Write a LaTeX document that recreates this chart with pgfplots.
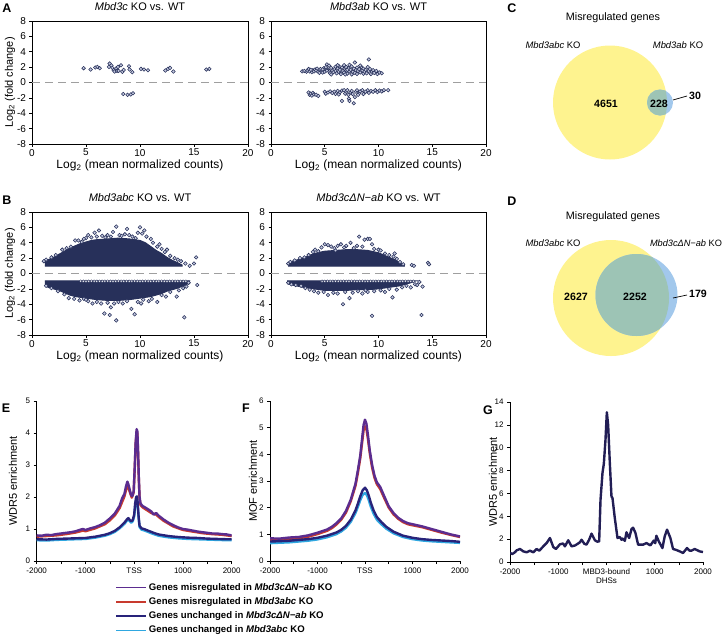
\documentclass[border=0pt]{standalone}
\usepackage{fontspec}
\setmainfont{Liberation Sans}
\usepackage{pgfplots}
\pgfplotsset{compat=1.18}
\definecolor{mnavy}{HTML}{27305A}
\definecolor{mfill}{HTML}{C5CAE0}
\definecolor{cpurple}{HTML}{5B2C8F}
\definecolor{cred}{HTML}{C83A2E}
\definecolor{cdblue}{HTML}{28237A}
\definecolor{clblue}{HTML}{2FA7E0}
\definecolor{gnavy}{HTML}{221E55}
\definecolor{vyel}{HTML}{FEF38F}
\definecolor{vblu}{HTML}{A2C8EC}
\definecolor{vgrn}{HTML}{9DC4B5}

\pgfplotsset{
  ma/.style={scale only axis, height=123pt,
    xmin=0, xmax=20, ymin=-8, ymax=8,
    xtick={0,5,10,15,20}, ytick={-8,-6,-4,-2,0,2,4,6,8},
    tick align=outside, xtick pos=bottom, ytick pos=left,
    major tick length=2.5pt, tick style={black, line width=0.6pt},
    axis line style={line width=0.7pt},
    /pgf/number format/assume math mode=true,
    tick label style={font=\fontsize{10}{11}\selectfont},
    xticklabel style={yshift=1pt},
    title style={anchor=center, at={(axis description cs:0.5,1.065)},
      font=\fontsize{11}{12}\selectfont},
    xlabel style={anchor=center, at={(axis description cs:0.5,-0.172)},
      font=\fontsize{12}{13}\selectfont},
    ylabel style={anchor=center, at={(axis description cs:-0.102,0.5)},
      font=\fontsize{11}{12}\selectfont}},
  pts/.style={only marks, mark=*, mark size=1.8pt,
    mark options={draw=mnavy, fill=mfill, line width=0.55pt}},
  lpts/.style={only marks, mark=*, mark size=1.4pt,
    mark options={draw=mnavy, fill=white!80!mfill, line width=0.4pt}},
  zline/.style={gray!75, line width=0.8pt, dash pattern=on 8pt off 5pt},
  core/.style={fill=mnavy, draw=mnavy, line width=1pt},
  prof/.style={scale only axis, height=160pt,
    axis x line=bottom, axis y line=left,
    axis line style={-, line width=0.8pt},
    xmin=-2000, xmax=2000, ymin=0,
    xtick={-2000,-1000,0,1000,2000},
    minor xtick={-1500,-500,500,1500},
    tick align=outside, major tick length=3pt, minor tick length=3pt,
    tick style={black, line width=0.6pt},
    /pgf/number format/assume math mode=true,
    tick label style={font=\fontsize{8}{9.5}\selectfont},
    ylabel style={anchor=center, font=\fontsize{11}{12}\selectfont},
    every axis plot/.append style={line width=2.4pt, line join=round}},
}

\begin{document}
\begin{tikzpicture}
\path[use as bounding box] (0pt,0pt) rectangle (726pt,-638pt);

% panel letters
\begin{scope}[every node/.style={font=\bfseries\fontsize{12.5}{14}\selectfont}]
\node at (7pt,-8pt) {A};
\node at (7pt,-200pt) {B};
\node at (512pt,-8pt) {C};
\node at (512pt,-201pt) {D};
\node at (6pt,-408pt) {E};
\node at (246pt,-408pt) {F};
\node at (488pt,-410pt) {G};
\end{scope}

% ---------------- A left
\begin{axis}[ma, at={(32pt,-144pt)}, anchor=south west, width=216pt,
  title={\textit{Mbd3c} KO vs. WT},
  xlabel={Log\textsubscript{2} (mean normalized counts)},
  ylabel={Log\textsubscript{2} (fold change)}]
\addplot[zline] coordinates {(0,0) (20,0)};
\addplot[pts] coordinates {
(4.78,1.86) (5.43,1.69) (5.86,1.95) (6.05,2.03) (6.27,1.86) (7.13,2.03)
(7.19,2.47) (7.35,2.21) (7.44,1.90) (7.56,1.60) (7.65,1.43) (7.81,1.86)
(7.87,1.52) (7.96,2.03) (8.02,1.52) (8.24,2.25) (8.36,1.39) (8.49,1.64)
(8.98,2.12) (9.04,1.69) (9.29,1.34) (10.09,1.77) (10.37,1.69) (10.74,1.60)
(12.35,1.56) (12.59,1.77) (12.78,1.90) (13.09,1.43) (16.14,1.69) (16.42,1.77)
(8.45,-1.50) (8.85,-1.60) (9.15,-1.55) (9.35,-1.40)};
\end{axis}

% ---------------- A right
\begin{axis}[ma, at={(271pt,-144pt)}, anchor=south west, width=215pt,
  title={\textit{Mbd3ab} KO vs. WT},
  xlabel={Log\textsubscript{2} (mean normalized counts)}]
\addplot[zline] coordinates {(0,0) (20,0)};
\addplot[pts] coordinates {
(2.9,1.45) (3.1,1.5) (3.3,1.4) (3.4,1.55) (3.5,1.75) (3.6,1.45) (3.8,1.35)
(3.9,1.6) (4.0,1.45) (4.1,1.7) (4.2,1.55) (4.3,1.8) (4.4,1.4) (4.5,1.65)
(4.6,1.75) (4.7,1.5) (4.8,1.3) (4.9,1.85) (5.0,1.6) (5.0,1.4) (5.1,2.0)
(5.2,2.35) (5.3,1.7) (5.4,1.5) (5.4,2.2) (5.5,1.2) (5.6,1.9) (5.7,1.6)
(5.8,1.35) (5.9,1.75) (6.0,2.05) (6.0,1.5) (6.1,1.2) (6.2,1.85) (6.3,2.15)
(6.3,1.4) (6.4,1.65) (6.5,1.1) (6.6,1.95) (6.7,1.5) (6.8,2.25) (6.8,1.3)
(6.9,1.75) (7.0,1.55) (7.0,2.0) (7.1,1.15) (7.2,1.85) (7.3,2.3) (7.3,1.45)
(7.4,1.65) (7.5,1.05) (7.5,2.1) (7.6,1.4) (7.7,1.8) (7.8,2.6) (7.8,1.25)
(7.9,1.6) (8.0,1.95) (8.0,1.1) (8.1,1.5) (8.2,1.75) (8.3,1.3) (8.4,2.0)
(8.5,1.55) (8.6,1.15) (8.6,1.8) (8.7,1.4) (8.8,1.65) (8.9,1.2) (9.0,2.0)
(9.1,3.0) (9.1,1.5) (9.2,1.75) (9.3,1.1) (9.4,1.4) (9.5,1.6) (9.6,1.25)
(9.8,1.5) (9.9,1.1) (10.1,1.3) (10.3,1.2) (5.6,1.05) (4.5,1.25) (6.9,1.05)
(8.3,2.2) (6.2,2.25) (5.2,1.55) (7.1,1.65) (3.7,1.65) (4.8,1.7)
(3.5,-1.3) (3.6,-1.6) (3.7,-1.45) (3.8,-1.7) (3.9,-1.35) (4.0,-1.55)
(4.2,-1.6) (4.4,-1.75) (5.0,-1.2) (5.1,-1.45) (5.3,-1.3) (5.5,-1.15)
(5.7,-1.35) (5.9,-1.2) (6.0,-1.5) (6.2,-1.1) (6.4,-1.3) (6.6,-1.05)
(6.6,-2.4) (6.8,-1.0) (6.9,-1.45) (7.0,-1.2) (7.1,-1.0) (7.2,-1.6)
(7.25,-2.1) (7.3,-2.4) (7.4,-1.3) (7.5,-1.1) (7.6,-1.5) (7.7,-2.7)
(7.8,-1.9) (7.9,-1.2) (8.0,-1.0) (8.2,-1.4) (8.3,-1.15) (8.5,-1.0)
(8.6,-1.5) (8.8,-1.2) (9.0,-1.0) (9.1,-1.35) (9.3,-1.1) (9.5,-1.2)
(9.7,-1.0) (9.9,-1.25) (10.1,-1.05) (10.3,-1.15) (10.5,-1.0) (10.9,-1.0)
(8.1,-1.6) (6.3,-1.55)};
\end{axis}

% ---------------- B left
\begin{axis}[ma, at={(32pt,-335pt)}, anchor=south west, width=216pt,
  title={\textit{Mbd3abc} KO vs. WT},
  xlabel={Log\textsubscript{2} (mean normalized counts)},
  ylabel={Log\textsubscript{2} (fold change)}]
\addplot[zline] coordinates {(0,0) (20,0)};
\addplot[core] coordinates {
(1.2,1.6) (1.5,1.8) (2,2.1) (2.5,2.5) (3,2.9) (3.5,3.3) (4,3.6) (4.5,3.9)
(5,4.1) (5.5,4.3) (6,4.4) (7,4.5) (8,4.6) (9,4.5) (10,4.3) (10.5,4.0)
(11,3.5) (11.5,3.0) (12,2.6) (12.5,2.1) (13,1.7) (13.5,1.4) (13.9,1.1)
(13.9,0.95) (1.2,0.95)};
\addplot[core] coordinates {
(1.2,-1.5) (1.5,-1.8) (2,-2.0) (2.5,-2.2) (3,-2.5) (3.5,-2.8) (4,-3.0)
(5,-3.2) (6,-3.4) (7,-3.5) (8,-3.5) (9,-3.4) (10,-3.2) (11,-3.0) (12,-2.6)
(12.5,-2.3) (13,-2.1) (13.5,-1.9) (14,-1.6) (14.5,-1.3) (14.6,-0.95)
(1.2,-0.95)};
\addplot[pts] coordinates {
(3.6,3.5) (4.0,4.3) (4.3,4.3) (4.6,4.1) (5.0,4.6) (5.2,5.0) (5.5,4.7)
(5.8,5.3) (6.2,5.6) (6.5,4.9) (6.8,4.7) (7.0,5.0) (7.3,4.8) (7.8,6.1)
(8.1,5.0) (8.3,4.9) (8.6,5.1) (8.8,5.8) (9.0,5.0) (9.3,4.8) (9.6,4.6)
(10.0,6.0) (10.2,5.2) (10.4,5.6) (10.6,4.8) (11.0,4.5) (11.2,4.0)
(11.6,3.5) (12.0,3.2) (12.5,3.1) (12.8,2.3) (13.2,2.0) (13.5,1.8)
(13.8,1.6) (14.2,1.3) (14.6,1.0) (15.0,1.3) (15.2,2.1) (12.3,2.8)
(11.8,3.8) (9.8,5.3) (7.5,5.4) (6.0,4.8) (4.8,4.5) (3.2,3.3) (2.8,3.1)
(2.2,2.4) (1.8,2.1) (1.3,1.8) (1.1,1.6)
(1.3,-1.6) (1.8,-1.9) (2.4,-2.3) (3.0,-2.7) (3.4,-3.2) (3.9,-3.3)
(4.4,-3.5) (4.8,-3.3) (5.2,-3.6) (5.6,-3.9) (6.0,-3.7) (6.4,-3.9)
(6.7,-5.2) (7.0,-3.8) (7.2,-5.4) (7.3,-4.4) (7.6,-3.9) (7.8,-6.1)
(8.0,-3.7) (8.4,-3.9) (8.8,-3.6) (9.2,-4.6) (9.5,-5.3) (9.8,-3.7)
(10.3,-3.4) (10.8,-3.6) (11.1,-3.3) (11.6,-3.7) (12.0,-2.8) (12.4,-3.0)
(12.8,-2.4) (13.4,-3.0) (13.6,-2.2) (14.0,-1.9) (14.1,-5.7) (14.3,-1.7)
(14.5,-1.2) (15.3,-1.5) (10.1,-3.9) (5.0,-3.4)};
\addplot[lpts] coordinates {
(4.5,-1) (4.75,-1) (5.0,-1) (5.25,-1) (5.5,-1) (5.75,-1) (6.0,-1)
(6.25,-1) (6.5,-1) (6.75,-1) (7.0,-1) (7.25,-1) (7.5,-1) (7.75,-1)
(8.0,-1) (8.25,-1) (8.5,-1) (8.75,-1) (9.0,-1) (9.25,-1) (9.5,-1)
(9.75,-1) (10.0,-1) (10.25,-1) (10.5,-1) (10.75,-1) (11.0,-1) (11.25,-1)
(11.5,-1) (11.75,-1) (12.0,-1) (12.25,-1) (12.5,-1) (12.75,-1) (13.0,-1)
(13.25,-1) (13.5,-1) (13.75,-1) (14.0,-1) (14.25,-1)};
\end{axis}

% ---------------- B right
\begin{axis}[ma, at={(271pt,-335pt)}, anchor=south west, width=215pt,
  title={\textit{Mbd3cΔN−ab} KO vs. WT},
  xlabel={Log\textsubscript{2} (mean normalized counts)}]
\addplot[zline] coordinates {(0,0) (20,0)};
\addplot[core] coordinates {
(1.6,1.4) (2,1.6) (2.5,1.8) (3,2.0) (3.5,2.3) (4,2.6) (5,2.9) (6,3.0)
(7,3.1) (8,3.1) (9,3.0) (10,2.7) (10.5,2.4) (11,2.1) (11.5,1.8) (12,1.4)
(12.4,1.1) (12.4,0.95) (1.6,0.95)};
\addplot[core] coordinates {
(1.5,-1.3) (2,-1.5) (3,-1.8) (4,-2.0) (5,-2.2) (6,-2.2) (7,-2.2) (8,-2.1)
(9,-2.1) (10,-2.0) (11,-1.8) (12,-1.6) (12.5,-1.4) (13,-1.2) (13.5,-0.95)
(1.5,-0.95)};
\addplot[pts] coordinates {
(1.6,1.3) (1.8,1.5) (2.2,1.7) (2.7,2.0) (3.1,2.1) (3.5,2.4) (3.9,2.8)
(4.1,3.1) (4.4,2.9) (4.7,3.4) (5.0,3.8) (5.3,3.7) (5.6,3.5) (5.9,3.3)
(6.2,3.6) (6.5,3.8) (6.8,3.4) (7.0,3.6) (7.4,4.0) (7.7,3.3) (8.0,3.6)
(8.2,4.8) (8.5,3.5) (8.7,4.4) (9.0,4.5) (9.2,4.5) (9.4,3.8) (9.6,3.2)
(10.0,3.1) (10.2,3.0) (10.6,2.6) (11.0,2.4) (11.4,2.2) (11.7,1.9)
(12.0,1.5) (12.3,1.2) (13.1,1.1) (13.3,1.0) (14.6,1.4) (14.7,1.2)
(11.5,2.6) (6.0,3.0)
(1.6,-1.2) (1.9,-1.4) (2.3,-1.5) (2.8,-1.6) (3.2,-1.9) (3.6,-2.1)
(4.0,-2.3) (4.4,-2.5) (4.9,-2.4) (5.3,-2.8) (5.8,-2.5) (6.2,-2.6)
(6.7,-4.0) (6.9,-2.4) (7.3,-3.2) (7.6,-2.5) (8.1,-2.3) (8.5,-2.6)
(9.0,-2.4) (9.4,-5.5) (9.6,-2.3) (10.2,-2.2) (10.6,-2.4) (11.0,-2.0)
(11.3,-3.1) (11.7,-2.1) (12.2,-1.8) (12.6,-1.6) (13.0,-1.8) (13.4,-1.4)
(13.6,-1.5) (13.8,-1.1) (14.0,-5.4) (14.1,-1.7) (8.8,-2.2)};
\addplot[lpts] coordinates {
(4.75,-1) (5.0,-1) (5.25,-1) (5.5,-1) (5.75,-1) (6.0,-1) (6.25,-1)
(6.5,-1) (6.75,-1) (7.0,-1) (7.25,-1) (7.5,-1) (7.75,-1) (8.0,-1)
(8.25,-1) (8.5,-1) (8.75,-1) (9.0,-1) (9.25,-1) (9.5,-1) (9.75,-1)
(10.0,-1) (10.25,-1) (10.5,-1) (10.75,-1) (11.0,-1) (11.25,-1) (11.5,-1)
(11.75,-1) (12.0,-1) (12.25,-1) (12.5,-1) (12.75,-1) (13.0,-1) (13.25,-1)};
\end{axis}

% ---------------- Venn C
\begin{scope}
\fill[vyel] (610pt,-102.5pt) circle (57pt);
\fill[vblu] (660pt,-102.5pt) circle (13pt);
\begin{scope}
\clip (610pt,-102.5pt) circle (57pt);
\fill[vgrn] (660pt,-102.5pt) circle (13pt);
\end{scope}
\node[font=\fontsize{10.8}{12}\selectfont] at (613pt,-18pt) {Misregulated genes};
\node[font=\fontsize{9.4}{11}\selectfont] at (553pt,-45pt) {\textit{Mbd3abc} KO};
\node[font=\fontsize{9.4}{11}\selectfont] at (678pt,-45pt) {\textit{Mbd3ab} KO};
\node[font=\bfseries\fontsize{10.6}{12}\selectfont] at (606pt,-104pt) {4651};
\node[font=\bfseries\fontsize{10.6}{12}\selectfont] at (659pt,-104pt) {228};
\node[font=\bfseries\fontsize{10.6}{12}\selectfont] at (695pt,-96pt) {30};
\draw[line width=0.7pt] (673pt,-100pt) -- (687pt,-96pt);
\end{scope}

% ---------------- Venn D
\begin{scope}
\fill[vyel] (611pt,-298pt) circle (58pt);
\fill[vblu] (636.5pt,-295pt) circle (41pt);
\begin{scope}
\clip (611pt,-298pt) circle (58pt);
\fill[vgrn] (636.5pt,-295pt) circle (41pt);
\end{scope}
\node[font=\fontsize{10.8}{12}\selectfont] at (613pt,-217pt) {Misregulated genes};
\node[font=\fontsize{9.4}{11}\selectfont] at (553pt,-243pt) {\textit{Mbd3abc} KO};
\node[font=\fontsize{9.2}{11}\selectfont] at (686pt,-243pt) {\textit{Mbd3cΔN−ab} KO};
\node[font=\bfseries\fontsize{10.6}{12}\selectfont] at (576pt,-297pt) {2627};
\node[font=\bfseries\fontsize{10.6}{12}\selectfont] at (635pt,-297pt) {2252};
\node[font=\bfseries\fontsize{10.6}{12}\selectfont] at (698pt,-294pt) {179};
\draw[line width=0.7pt] (673pt,-298pt) -- (687pt,-295pt);
\end{scope}

% ---------------- E
\begin{axis}[prof, at={(36.7pt,-561pt)}, anchor=south west, width=195pt,
  ymax=5, ytick={0,1,2,3,4,5},
  xticklabels={-2000,-1000,TSS,1000,2000},
  ylabel={WDR5 enrichment},
  ylabel style={at={(axis description cs:-0.122,0.5)}},
  legend style={at={(0.405,-0.128)}, anchor=north west, draw=none, fill=none,
    font=\bfseries\fontsize{9.6}{11}\selectfont, row sep=1.6pt, inner sep=0pt,
    cells={anchor=west}},
  legend image code/.code={\draw[#1, line width=1.1pt] (0pt,0pt) -- (30pt,0pt);}]
\addlegendimage{cpurple}
\addlegendentry{Genes misregulated in \textit{Mbd3cΔN−ab} KO}
\addlegendimage{cred}
\addlegendentry{Genes misregulated in \textit{Mbd3abc} KO}
\addlegendimage{cdblue}
\addlegendentry{Genes unchanged in \textit{Mbd3cΔN−ab} KO}
\addlegendimage{clblue}
\addlegendentry{Genes unchanged in \textit{Mbd3abc} KO}
\addplot[cred, forget plot] coordinates {
(-2000,0.76) (-1800,0.78) (-1600,0.80) (-1400,0.84) (-1200,0.89) (-1050,0.95)
(-1000,0.93) (-800,1.02) (-600,1.15) (-500,1.27) (-400,1.42) (-300,1.65)
(-200,2.02) (-140,2.38) (-100,2.20) (-50,1.98) (-10,2.15) (10,2.85) (30,3.65)
(50,4.05) (65,3.98) (80,3.35) (95,2.55) (110,1.95) (130,1.75) (170,1.68)
(250,1.60) (350,1.50) (450,1.45) (500,1.38) (600,1.26) (800,1.08) (1000,0.97)
(1200,0.92) (1400,0.87) (1600,0.84) (1800,0.82) (2000,0.78)};
\addplot[cpurple, forget plot] coordinates {
(-2000,0.80) (-1900,0.79) (-1800,0.82) (-1700,0.81) (-1600,0.84) (-1500,0.86)
(-1400,0.88) (-1300,0.90) (-1200,0.93) (-1100,0.98) (-1050,1.00) (-1000,0.97)
(-900,1.02) (-800,1.06) (-700,1.12) (-600,1.20) (-500,1.33) (-400,1.48)
(-300,1.72) (-250,1.95) (-200,2.10) (-170,2.32) (-140,2.48) (-120,2.40)
(-100,2.28) (-70,2.10) (-50,2.03) (-30,2.05) (-10,2.20) (10,2.90) (30,3.70)
(50,4.12) (65,4.05) (80,3.40) (95,2.60) (110,2.00) (130,1.80) (170,1.72)
(250,1.65) (350,1.55) (400,1.45) (450,1.50) (500,1.42) (600,1.30) (700,1.20)
(800,1.12) (900,1.05) (1000,1.00) (1100,0.98) (1200,0.95) (1300,0.92)
(1400,0.90) (1500,0.88) (1600,0.86) (1700,0.86) (1800,0.84) (1900,0.83)
(2000,0.80)};
\addplot[clblue, forget plot] coordinates {
(-2000,0.65) (-1800,0.64) (-1600,0.66) (-1400,0.67) (-1200,0.68) (-1000,0.69)
(-800,0.73) (-600,0.79) (-500,0.84) (-400,0.91) (-300,1.02) (-200,1.16)
(-150,1.26) (-120,1.30) (-90,1.24) (-60,1.20) (-30,1.24) (0,1.40) (20,1.72)
(40,1.90) (55,1.93) (70,1.78) (90,1.35) (110,1.06) (150,0.98) (200,0.96)
(300,0.90) (400,0.84) (500,0.79) (700,0.74) (900,0.71) (1100,0.69)
(1300,0.68) (1500,0.67) (1700,0.66) (1900,0.65) (2000,0.65)};
\addplot[cdblue, forget plot] coordinates {
(-2000,0.68) (-1800,0.67) (-1600,0.69) (-1400,0.70) (-1200,0.71) (-1000,0.72)
(-800,0.76) (-600,0.82) (-500,0.87) (-400,0.94) (-300,1.05) (-200,1.20)
(-150,1.30) (-120,1.34) (-90,1.28) (-60,1.24) (-30,1.28) (0,1.45) (20,1.80)
(40,2.00) (55,2.02) (70,1.85) (90,1.40) (110,1.10) (150,1.02) (200,1.00)
(300,0.94) (400,0.88) (500,0.83) (700,0.78) (900,0.75) (1100,0.73)
(1300,0.72) (1500,0.70) (1700,0.69) (1900,0.68) (2000,0.68)};
\end{axis}

% ---------------- F
\begin{axis}[prof, at={(270pt,-561pt)}, anchor=south west, width=190pt,
  ymax=6, ytick={0,1,2,3,4,5,6},
  xticklabels={-2000,-1000,TSS,1000,2000},
  ylabel={MOF enrichment},
  ylabel style={at={(axis description cs:-0.09,0.5)}}]
\addplot[cred] coordinates {
(-2000,0.78) (-1800,0.78) (-1600,0.82) (-1400,0.85) (-1200,0.91) (-1000,1.01)
(-800,1.13) (-700,1.23) (-600,1.37) (-500,1.55) (-400,1.82) (-300,2.24)
(-200,2.82) (-150,3.30) (-100,3.85) (-60,4.45) (-30,4.90) (0,5.05) (30,4.95)
(60,4.60) (100,4.05) (150,3.50) (200,3.12) (250,2.88) (320,2.70) (400,2.38)
(500,2.00) (600,1.75) (700,1.58) (800,1.46) (900,1.38) (1000,1.34)
(1200,1.27) (1400,1.17) (1600,1.07) (1800,0.98) (2000,0.90)};
\addplot[cpurple] coordinates {
(-2000,0.85) (-1800,0.84) (-1600,0.88) (-1400,0.90) (-1200,0.96) (-1000,1.06)
(-800,1.18) (-700,1.28) (-600,1.42) (-500,1.60) (-400,1.88) (-300,2.30)
(-200,2.90) (-150,3.40) (-100,3.95) (-60,4.60) (-30,5.10) (0,5.30) (30,5.15)
(60,4.75) (100,4.15) (150,3.60) (200,3.20) (250,2.95) (320,2.78) (400,2.45)
(500,2.05) (600,1.80) (700,1.62) (800,1.50) (900,1.42) (1000,1.38)
(1200,1.30) (1400,1.20) (1600,1.10) (1800,1.00) (2000,0.92)};
\addplot[clblue] coordinates {
(-2000,0.67) (-1600,0.70) (-1200,0.76) (-1000,0.81) (-800,0.89) (-600,1.01)
(-500,1.11) (-400,1.25) (-300,1.47) (-200,1.80) (-150,2.03) (-100,2.28)
(-50,2.48) (0,2.55) (40,2.47) (80,2.28) (120,2.05) (180,1.78) (250,1.55)
(350,1.37) (450,1.21) (600,1.04) (800,0.90) (1000,0.82) (1200,0.77)
(1400,0.74) (1600,0.72) (1800,0.70) (2000,0.68)};
\addplot[cdblue] coordinates {
(-2000,0.73) (-1600,0.76) (-1200,0.82) (-1000,0.87) (-800,0.95) (-600,1.07)
(-500,1.17) (-400,1.32) (-300,1.55) (-200,1.90) (-150,2.15) (-100,2.42)
(-50,2.65) (0,2.75) (40,2.65) (80,2.45) (120,2.20) (180,1.90) (250,1.65)
(350,1.45) (450,1.28) (600,1.10) (800,0.95) (1000,0.87) (1200,0.82)
(1400,0.79) (1600,0.77) (1800,0.75) (2000,0.72)};
\end{axis}

% ---------------- G
\begin{axis}[prof, at={(510pt,-562pt)}, anchor=south west, width=193pt,
  ymax=14, ytick={0,2,4,6,8,10,12,14},
  xticklabels={-2000,-1000,{MBD3-bound\\DHSs},1000,2000},
  xticklabel style={align=center},
  ylabel={WDR5 enrichment},
  ylabel style={at={(axis description cs:-0.088,0.5)}}]
\addplot[gnavy] coordinates {
(-2000,0.79) (-1952,0.70) (-1900,0.85) (-1862,1.02) (-1793,1.14) (-1724,0.93)
(-1655,0.85) (-1586,0.99) (-1517,0.85) (-1448,1.14) (-1393,0.99) (-1310,1.37)
(-1241,1.66) (-1172,2.10) (-1103,1.31) (-1048,1.14) (-966,1.55) (-900,1.62)
(-862,1.37) (-793,1.90) (-724,1.37) (-650,1.45) (-552,1.72) (-517,1.95)
(-460,1.60) (-414,1.52) (-360,1.95) (-310,2.48) (-241,1.90) (-190,1.78)
(-152,1.81) (-124,5.45) (-83,7.80) (-55,8.60) (-21,10.7) (7,13.1) (34,12.0)
(69,8.66) (103,5.74) (124,5.60) (172,3.85) (228,2.10) (276,2.19) (310,1.95)
(331,2.05) (380,1.85) (414,2.60) (469,2.10) (520,2.90) (552,3.00) (600,2.54)
(655,1.52) (759,1.52) (828,1.66) (870,1.55) (910,1.46) (979,1.87) (1010,1.65)
(1034,2.30) (1083,1.81) (1159,1.22) (1207,2.25) (1255,2.83) (1324,2.10)
(1379,1.14) (1450,1.05) (1517,0.93) (1586,0.79) (1669,1.22) (1720,1.00)
(1759,0.99) (1828,1.14) (1931,0.93) (2000,0.87)};
\end{axis}
\end{tikzpicture}
\end{document}
